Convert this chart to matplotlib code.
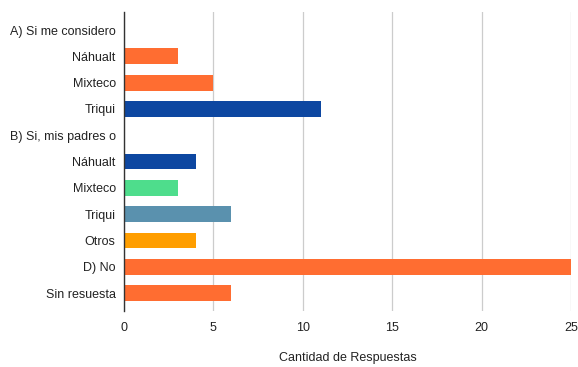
import matplotlib
matplotlib.use("Agg")
import matplotlib.pyplot as plt

labels = ["A) Si me considero", "Náhualt", "Mixteco", "Triqui",
          "B) Si, mis padres o", "Náhualt", "Mixteco", "Triqui", "Otros",
          "D) No", "Sin resuesta"]
values = [0, 3, 5, 11, 0, 4, 3, 6, 4, 25, 6]
colors = ["#ff6d31", "#ff6d31", "#ff6d31", "#0d47a1", "#ff6d31",
          "#0d47a1", "#4edd8c", "#5a91ae", "#ff9e00", "#ff6d31", "#ff6d31"]
xticks = [0, 5, 10, 15, 20, 25]

plt.rcParams["font.family"] = ["Liberation Sans", "DejaVu Sans"]

fig = plt.figure(figsize=(5.78, 3.67), dpi=100)
ax = fig.add_axes([0.2145, 0.1526, 0.7735, 0.8144])

ys = range(len(labels))
ax.barh(ys, values, height=0.6, color=colors, zorder=3)

ax.set_xlim(0, 25)
ax.set_ylim(len(labels) - 0.32, -0.68)
ax.set_xticks(xticks)
ax.set_yticks(list(ys))
ax.set_yticklabels(labels)
ax.tick_params(length=0, labelsize=9, colors="#222222", pad=6)
ax.tick_params(axis="x", pad=8)
ax.grid(axis="x", color="#cccccc", linewidth=0.9, zorder=0)
for side in ["top", "right", "bottom"]:
    ax.spines[side].set_visible(False)
ax.spines["left"].set_color("#333333")
ax.spines["left"].set_linewidth(1.0)
ax.spines["left"].set_zorder(4)

ax.set_xlabel("Cantidad de Respuestas", fontsize=9, color="#222222", labelpad=13)

fig.savefig("out.png", dpi=100, facecolor="white")
